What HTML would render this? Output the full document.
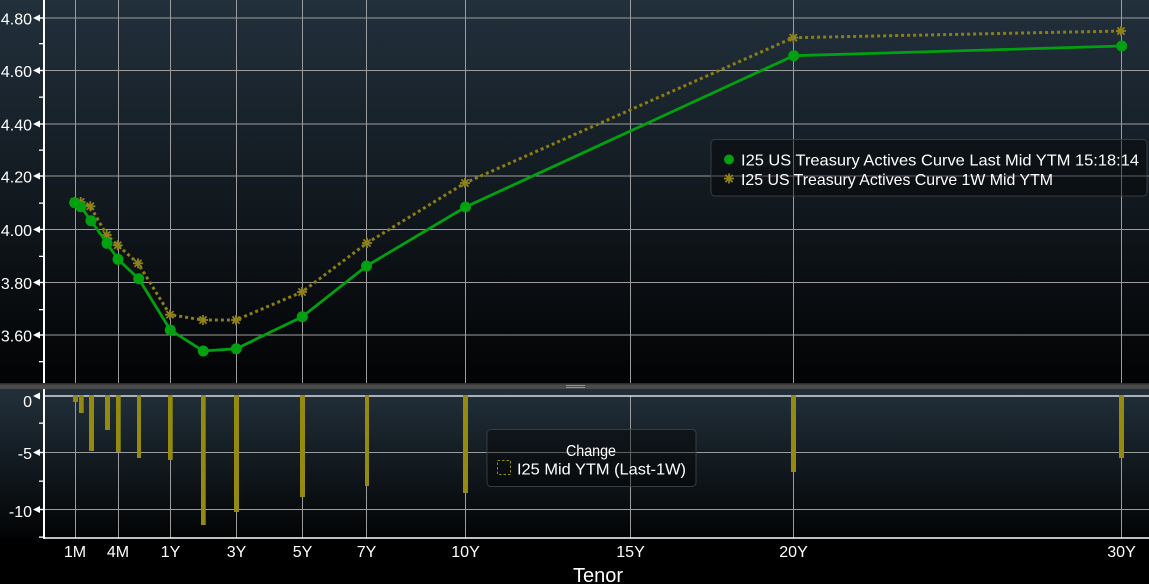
<!DOCTYPE html>
<html><head><meta charset="utf-8"><style>
html,body{margin:0;padding:0;background:#000;}
svg{display:block;}
text{font-family:"Liberation Sans",sans-serif;fill:#fff;}
</style></head><body>
<svg width="1149" height="584" viewBox="0 0 1149 584" xmlns="http://www.w3.org/2000/svg">
<defs>
<linearGradient id="gu" x1="0" y1="0" x2="0" y2="1">
<stop offset="0" stop-color="#22303c"/><stop offset="1" stop-color="#020304"/>
</linearGradient>
<linearGradient id="gl" x1="0" y1="0" x2="0" y2="1">
<stop offset="0" stop-color="#22303b"/><stop offset="1" stop-color="#020304"/>
</linearGradient>
<g id="ast" stroke="#8f8218" stroke-width="1.8">
<line x1="-5" y1="0" x2="5" y2="0"/><line x1="0" y1="-5" x2="0" y2="5"/>
<line x1="-3.6" y1="-3.6" x2="3.6" y2="3.6"/><line x1="-3.6" y1="3.6" x2="3.6" y2="-3.6"/>
</g>
</defs>
<rect x="0" y="0" width="1149" height="584" fill="#000"/>
<rect x="0" y="0" width="1149" height="383" fill="url(#gu)"/>
<rect x="0" y="389" width="1149" height="149" fill="url(#gl)"/>
<!-- separator -->
<rect x="0" y="383" width="1149" height="1.5" fill="#2e2e2e"/>
<rect x="0" y="384.5" width="1149" height="4.5" fill="#4b4b4b"/>
<line x1="566" y1="385.5" x2="585" y2="385.5" stroke="#aaa" stroke-width="0.8"/>
<line x1="566" y1="387.5" x2="585" y2="387.5" stroke="#aaa" stroke-width="0.8"/>

<!-- upper gridlines -->
<g stroke="#9c9c9c" stroke-width="1">
<line x1="44" y1="18" x2="1149" y2="18"/>
<line x1="44" y1="70.5" x2="1149" y2="70.5"/>
<line x1="44" y1="124" x2="1149" y2="124"/>
<line x1="44" y1="176" x2="1149" y2="176"/>
<line x1="44" y1="229.5" x2="1149" y2="229.5"/>
<line x1="44" y1="282.5" x2="1149" y2="282.5"/>
<line x1="44" y1="335" x2="1149" y2="335"/>
</g>
<g stroke="#9c9c9c" stroke-width="1">
<line x1="75.5" y1="0" x2="75.5" y2="383"/>
<line x1="118.5" y1="0" x2="118.5" y2="383"/>
<line x1="170.5" y1="0" x2="170.5" y2="383"/>
<line x1="236.5" y1="0" x2="236.5" y2="383"/>
<line x1="302.5" y1="0" x2="302.5" y2="383"/>
<line x1="366.5" y1="0" x2="366.5" y2="383"/>
<line x1="465.5" y1="0" x2="465.5" y2="383"/>
<line x1="630.5" y1="0" x2="630.5" y2="383"/>
<line x1="793.5" y1="0" x2="793.5" y2="383"/>
<line x1="1121.5" y1="0" x2="1121.5" y2="383"/>
</g>
<!-- lower gridlines -->
<g stroke="#9c9c9c" stroke-width="1">
<line x1="44" y1="452.5" x2="1149" y2="452.5"/>
<line x1="44" y1="509.5" x2="1149" y2="509.5"/>
<line x1="75.5" y1="396" x2="75.5" y2="538"/>
<line x1="118.5" y1="396" x2="118.5" y2="538"/>
<line x1="170.5" y1="396" x2="170.5" y2="538"/>
<line x1="236.5" y1="396" x2="236.5" y2="538"/>
<line x1="302.5" y1="396" x2="302.5" y2="538"/>
<line x1="366.5" y1="396" x2="366.5" y2="538"/>
<line x1="465.5" y1="396" x2="465.5" y2="538"/>
<line x1="630.5" y1="396" x2="630.5" y2="538"/>
<line x1="793.5" y1="396" x2="793.5" y2="538"/>
<line x1="1121.5" y1="396" x2="1121.5" y2="538"/>
</g>
<line x1="44" y1="396" x2="1149" y2="396" stroke="#fff" stroke-width="1.2"/>
<line x1="44" y1="538" x2="1149" y2="538" stroke="#fff" stroke-width="1.5"/>

<!-- axes -->
<line x1="44" y1="0" x2="44" y2="383" stroke="#fff" stroke-width="2"/>
<line x1="44" y1="389" x2="44" y2="539" stroke="#fff" stroke-width="2"/>

<!-- upper ticks -->
<g fill="#fff">
<polygon points="33,18 40,14.5 40,21.5"/><rect x="40" y="17.3" width="4" height="1.4"/>
<polygon points="33,70.5 40,67 40,74"/><rect x="40" y="69.8" width="4" height="1.4"/>
<polygon points="33,124 40,120.5 40,127.5"/><rect x="40" y="123.3" width="4" height="1.4"/>
<polygon points="33,176 40,172.5 40,179.5"/><rect x="40" y="175.3" width="4" height="1.4"/>
<polygon points="33,229.5 40,226 40,233"/><rect x="40" y="228.8" width="4" height="1.4"/>
<polygon points="33,282.5 40,279 40,286"/><rect x="40" y="281.8" width="4" height="1.4"/>
<polygon points="33,335 40,331.5 40,338.5"/><rect x="40" y="334.3" width="4" height="1.4"/>
<rect x="39" y="43" width="5" height="1.3"/>
<rect x="39" y="96.5" width="5" height="1.3"/>
<rect x="39" y="149.5" width="5" height="1.3"/>
<rect x="39" y="202.5" width="5" height="1.3"/>
<rect x="39" y="255.7" width="5" height="1.3"/>
<rect x="39" y="309" width="5" height="1.3"/>
<rect x="39" y="361" width="5" height="1.3"/>
<!-- lower ticks -->
<polygon points="33,396 40,392.5 40,399.5"/>
<polygon points="33,452.5 40,449 40,456"/><rect x="40" y="451.8" width="4" height="1.4"/>
<polygon points="33,509.5 40,506 40,513"/><rect x="40" y="508.8" width="4" height="1.4"/>
<rect x="39" y="422.5" width="5" height="1.3"/>
<rect x="39" y="480.5" width="5" height="1.3"/>
<rect x="39" y="536.5" width="5" height="1.3"/>
</g>

<!-- y labels -->
<g font-size="16" text-anchor="end">
<text x="32" y="24.5">4.80</text>
<text x="32" y="77">4.60</text>
<text x="32" y="130.5">4.40</text>
<text x="32" y="182.5">4.20</text>
<text x="32" y="236">4.00</text>
<text x="32" y="289">3.80</text>
<text x="32" y="341.5">3.60</text>
<text x="32" y="407">0</text>
<text x="32" y="459">-5</text>
<text x="32" y="517">-10</text>
</g>

<!-- x labels -->
<g font-size="16" text-anchor="middle">
<text x="75" y="557">1M</text>
<text x="118" y="557">4M</text>
<text x="170.5" y="557">1Y</text>
<text x="236.5" y="557">3Y</text>
<text x="302.5" y="557">5Y</text>
<text x="366.5" y="557">7Y</text>
<text x="465.5" y="557">10Y</text>
<text x="630.5" y="557">15Y</text>
<text x="793.5" y="557">20Y</text>
<text x="1121.5" y="557">30Y</text>
</g>
<text x="598" y="582" font-size="20" text-anchor="middle">Tenor</text>

<!-- bars -->
<g fill="#958a10">
<rect x="73" y="395" width="5" height="7"/>
<rect x="79" y="395" width="4.7" height="18"/>
<rect x="89" y="395" width="5" height="56"/>
<rect x="105" y="395" width="5" height="35"/>
<rect x="116" y="395" width="4.7" height="57"/>
<rect x="137" y="395" width="4" height="63"/>
<rect x="168" y="395" width="4.7" height="65"/>
<rect x="201" y="395" width="4.7" height="130"/>
<rect x="234" y="395" width="5" height="117"/>
<rect x="300" y="395" width="5" height="102"/>
<rect x="365" y="395" width="4" height="91"/>
<rect x="463" y="395" width="5" height="98"/>
<rect x="791" y="395" width="5" height="77"/>
<rect x="1119" y="395" width="5" height="63"/>
</g>

<!-- 1W yellow dotted -->
<polyline fill="none" stroke="#8c7e16" stroke-width="3" stroke-dasharray="3 3"
points="74.3,202 80.7,202 90.3,206.3 106.7,235 117.7,245.3 138,263.3 170,314.7 203,320 236,320 302,292 367,243 465,183 793.3,37.7 1121,31"/>
<g>
<use href="#ast" x="74.3" y="202"/><use href="#ast" x="80.7" y="202"/>
<use href="#ast" x="90.3" y="206.3"/><use href="#ast" x="106.7" y="235"/>
<use href="#ast" x="117.7" y="245.3"/><use href="#ast" x="138" y="263.3"/>
<use href="#ast" x="170" y="314.7"/><use href="#ast" x="203" y="320"/>
<use href="#ast" x="236" y="320"/><use href="#ast" x="302" y="292"/>
<use href="#ast" x="367" y="243"/><use href="#ast" x="465" y="183"/>
<use href="#ast" x="793.3" y="37.7"/><use href="#ast" x="1121" y="31"/>
</g>

<!-- Last green -->
<polyline fill="none" stroke="#00a010" stroke-width="2.8"
points="74.7,202.7 80.7,206.7 91,220.7 107,243.3 118,259.3 138.7,278.7 170.3,330 203.3,351 236.3,348.7 302.3,316.7 366.5,266 465.5,207 793.7,55.7 1121.7,46"/>
<g fill="#00a010">
<circle cx="74.7" cy="202.7" r="5.5"/><circle cx="80.7" cy="206.7" r="5.5"/>
<circle cx="91" cy="220.7" r="5.5"/><circle cx="107" cy="243.3" r="5.5"/>
<circle cx="118" cy="259.3" r="5.5"/><circle cx="138.7" cy="278.7" r="5.5"/>
<circle cx="170.3" cy="330" r="5.5"/><circle cx="203.3" cy="351" r="5.5"/>
<circle cx="236.3" cy="348.7" r="5.5"/><circle cx="302.3" cy="316.7" r="5.5"/>
<circle cx="366.5" cy="266" r="5.5"/><circle cx="465.5" cy="207" r="5.5"/>
<circle cx="793.7" cy="55.7" r="5.5"/><circle cx="1121.7" cy="46" r="5.5"/>
</g>

<!-- upper legend -->
<rect x="711" y="139.5" width="436" height="56.5" rx="4" fill="#000" fill-opacity="0.38" stroke="#3a3d40" stroke-width="1"/>
<circle cx="729" cy="159.5" r="5" fill="#00a010"/>
<use href="#ast" x="729" y="178.5"/>
<text x="741" y="165.7" font-size="16" textLength="398" lengthAdjust="spacingAndGlyphs">I25 US Treasury Actives Curve Last Mid YTM 15:18:14</text>
<text x="741" y="185" font-size="16" textLength="312" lengthAdjust="spacingAndGlyphs">I25 US Treasury Actives Curve 1W Mid YTM</text>

<!-- lower legend -->
<rect x="487" y="429.5" width="209" height="57" rx="4" fill="#000" fill-opacity="0.38" stroke="#3a3d40" stroke-width="1"/>
<text x="591" y="456" font-size="16" text-anchor="middle" textLength="50" lengthAdjust="spacingAndGlyphs">Change</text>
<rect x="497.5" y="460.5" width="13" height="14" fill="none" stroke="#958a10" stroke-width="1" stroke-dasharray="2.5 2"/>
<text x="517" y="474.3" font-size="16" textLength="169" lengthAdjust="spacingAndGlyphs">I25 Mid YTM (Last-1W)</text>
</svg>
</body></html>
